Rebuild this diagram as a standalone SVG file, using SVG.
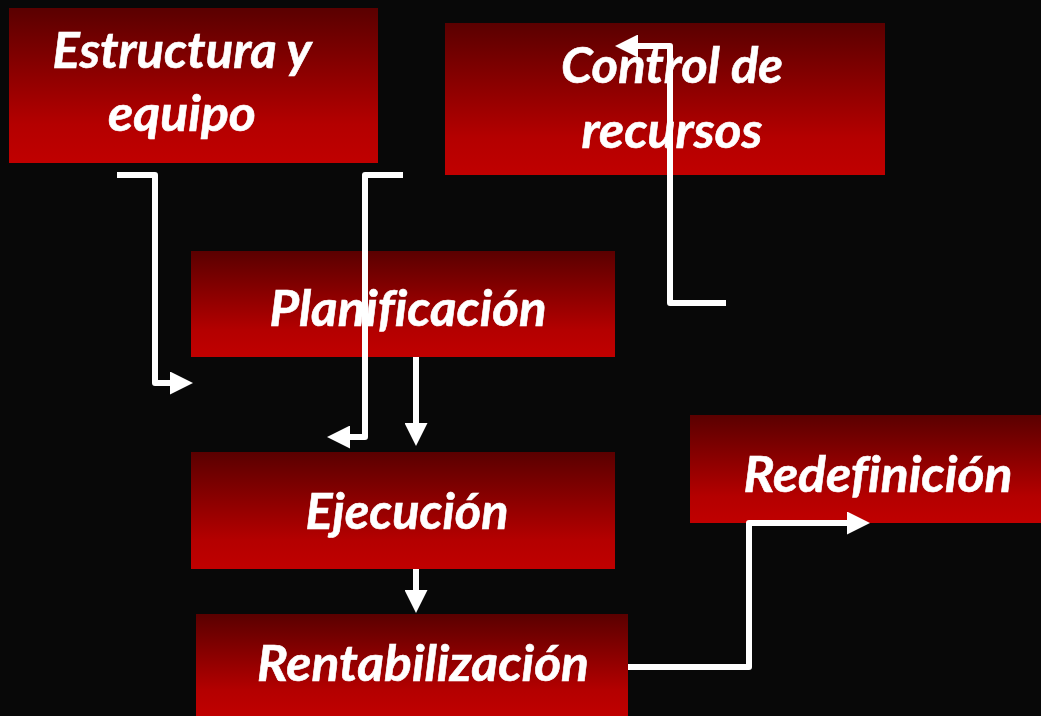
<svg xmlns="http://www.w3.org/2000/svg" width="1041" height="716" viewBox="0 0 1041 716">
<defs>
<linearGradient id="g" x1="0" y1="0" x2="0" y2="1">
<stop offset="0" stop-color="#5a0000"/>
<stop offset="0.75" stop-color="#b40000"/>
<stop offset="1" stop-color="#c00000"/>
</linearGradient>
<marker id="ah" viewBox="0 0 23 23" refX="0" refY="11.5" markerWidth="23" markerHeight="23" markerUnits="userSpaceOnUse" orient="auto">
<path d="M0,0 L23,11.5 L0,23 z" fill="#ffffff"/>
</marker>
<style>
.box{fill:url(#g)}
.t{font-family:Lato,"Open Sans","Liberation Sans",sans-serif;font-weight:bold;font-style:italic;font-size:50px;fill:#ffffff;text-anchor:middle;font-variant-ligatures:none;stroke:#ffffff;stroke-width:0.6}
.c{fill:none;stroke:#ffffff;stroke-width:6;stroke-linejoin:round;marker-end:url(#ah)}
</style>
</defs>
<rect width="1041" height="716" fill="#080808"/>
<g id="estructura">
<rect class="box" x="9" y="8" width="369" height="155"/>
<text class="t" x="182" y="68" textLength="259" lengthAdjust="spacingAndGlyphs">Estructura y</text>
<text class="t" x="182" y="131" textLength="148" lengthAdjust="spacingAndGlyphs">equipo</text>
</g>
<g id="control">
<rect class="box" x="445" y="23" width="440" height="152"/>
<text class="t" x="672" y="83" textLength="222" lengthAdjust="spacingAndGlyphs">Control de</text>
<text class="t" x="672" y="148" textLength="181" lengthAdjust="spacingAndGlyphs">recursos</text>
</g>
<g id="planificacion">
<rect class="box" x="191" y="251" width="424" height="106"/>
<text class="t" x="408" y="326" textLength="277" lengthAdjust="spacingAndGlyphs">Planificación</text>
</g>
<g id="ejecucion">
<rect class="box" x="191" y="452" width="424" height="117"/>
<text class="t" x="407" y="529" textLength="203" lengthAdjust="spacingAndGlyphs">Ejecución</text>
</g>
<g id="rentabilizacion">
<rect class="box" x="196" y="614" width="432" height="102"/>
<text class="t" x="423" y="681" textLength="332" lengthAdjust="spacingAndGlyphs">Rentabilización</text>
</g>
<g id="redefinicion">
<rect class="box" x="690" y="415" width="351" height="108"/>
<text class="t" x="878" y="492" textLength="269" lengthAdjust="spacingAndGlyphs">Redefinición</text>
</g>
<g id="connectors">
<path class="c" d="M117,175 H155 V383 H170"/>
<path class="c" d="M403,175 H365 V437 H350"/>
<path class="c" d="M416,357 V423"/>
<path class="c" d="M416,569 V590"/>
<path class="c" d="M726,303 H670 V46 H638"/>
<path class="c" d="M628,667 H749 V523 H847"/>
</g>
</svg>
